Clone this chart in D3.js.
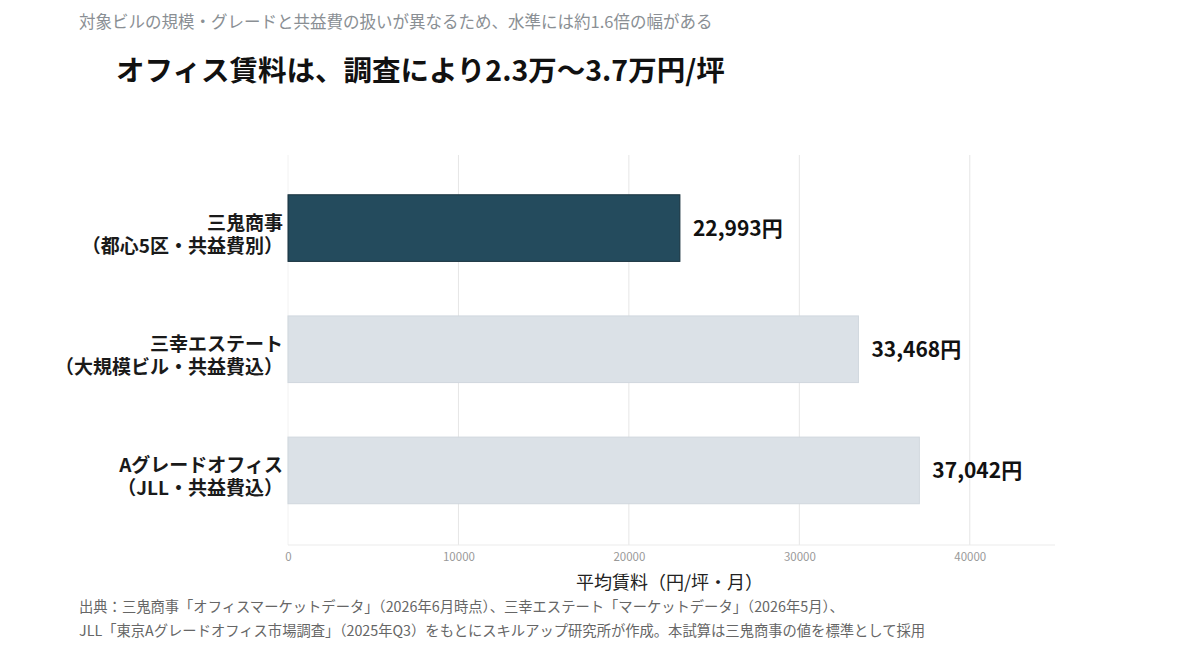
<!DOCTYPE html>
<html>
<head>
<meta charset="utf-8">
<script src="https://cdn.jsdelivr.net/npm/d3@7"></script>
<style>
  body { margin: 0; background: #fff; }
  text { font-family: "Noto Sans CJK JP", "Noto Sans", sans-serif; }
</style>
</head>
<body>
<svg id="chart" width="1200" height="648"></svg>
<script>
// data
var categories = [
  ["三鬼商事", "（都心5区・共益費別）"],
  ["三幸エステート", "（大規模ビル・共益費込）"],
  ["Aグレードオフィス", "（JLL・共益費込）"]
];
var rents = [22993, 33468, 37042];
var barColors = ["#244b5d", "#dbe1e7", "#dbe1e7"];
var barStrokes = ["#17313d", "#d0d7de", "#d0d7de"];
var xTicks = [0, 10000, 20000, 30000, 40000];
var sourceLines = [
  "出典：三鬼商事「オフィスマーケットデータ」（2026年6月時点）、三幸エステート「マーケットデータ」（2026年5月）、",
  "JLL「東京Aグレードオフィス市場調査」（2025年Q3）をもとにスキルアップ研究所が作成。本試算は三鬼商事の値を標準として採用"
];

var svg = d3.select("#chart");
var plotLeft = 288, plotRight = 1055, plotTop = 155, plotBottom = 545;

var x = d3.scaleLinear().domain([0, 45000]).range([plotLeft, plotRight]);
var y = d3.scaleBand().domain(d3.range(categories.length))
  .range([167.5, 531]).paddingInner(0.45).paddingOuter(0.225);

// header
svg.append("text").attr("x", 79).attr("y", 28)
  .attr("font-size", 16.5).attr("fill", "#8a8f94")
  .text("対象ビルの規模・グレードと共益費の扱いが異なるため、水準には約1.6倍の幅がある");
svg.append("text").attr("x", 116).attr("y", 81)
  .attr("font-size", 28.5).attr("font-weight", "bold").attr("fill", "#111")
  .text("オフィス賃料は、調査により2.3万〜3.7万円/坪");

// grid
svg.append("g").selectAll("line").data(xTicks).join("line")
  .attr("x1", d => x(d)).attr("x2", d => x(d))
  .attr("y1", plotTop).attr("y2", plotBottom)
  .attr("stroke", d => d === 0 ? "#f2f2f2" : "#e6e6e6").attr("stroke-width", 1);

svg.append("line").attr("x1", plotLeft).attr("x2", plotRight)
  .attr("y1", plotBottom).attr("y2", plotBottom)
  .attr("stroke", "#ebebeb");

// axis
var xAxis = d3.axisBottom(x).tickValues(xTicks).tickSize(0).tickPadding(8)
  .tickFormat(d3.format("d"));
var ax = svg.append("g").attr("transform", "translate(0," + plotBottom + ")").call(xAxis);
ax.select(".domain").remove();
ax.selectAll("text").attr("font-size", 11.5).attr("fill", "#999")
  .attr("font-family", "\"Noto Sans CJK JP\", sans-serif");

svg.append("text").attr("x", (plotLeft + plotRight) / 2 - 2).attr("y", 589)
  .attr("text-anchor", "middle").attr("font-size", 18).attr("fill", "#222")
  .text("平均賃料（円/坪・月）");

// bars
svg.append("g").selectAll("rect").data(rents).join("rect")
  .attr("x", x(0)).attr("y", (d, i) => y(i))
  .attr("width", d => x(d) - x(0)).attr("height", y.bandwidth())
  .attr("fill", (d, i) => barColors[i])
  .attr("stroke", (d, i) => barStrokes[i]).attr("stroke-width", 1);

// value labels
svg.append("g").selectAll("text").data(rents).join("text")
  .attr("x", d => x(d) + 13).attr("y", (d, i) => y(i) + y.bandwidth() / 2)
  .attr("dy", "0.36em").attr("font-size", 21).attr("font-weight", "bold")
  .attr("fill", "#111")
  .text(d => d3.format(",")(d) + "円");

// category labels
var cat = svg.append("g").selectAll("text").data(categories).join("text")
  .attr("text-anchor", "end").attr("font-size", 19).attr("font-weight", "bold")
  .attr("fill", "#1a1a1a");
cat.each(function(d, i) {
  var cy = y(i) + y.bandwidth() / 2;
  d3.select(this).selectAll("tspan").data(d).join("tspan")
    .attr("x", 283).attr("y", (t, j) => cy + (j === 0 ? 1.5 : 24.5))
    .text(t => t);
});

// source
svg.append("g").selectAll("text").data(sourceLines).join("text")
  .attr("x", 79).attr("y", (d, i) => 612 + i * 24)
  .attr("font-size", 14.3).attr("fill", "#666")
  .text(d => d);
</script>
</body>
</html>
